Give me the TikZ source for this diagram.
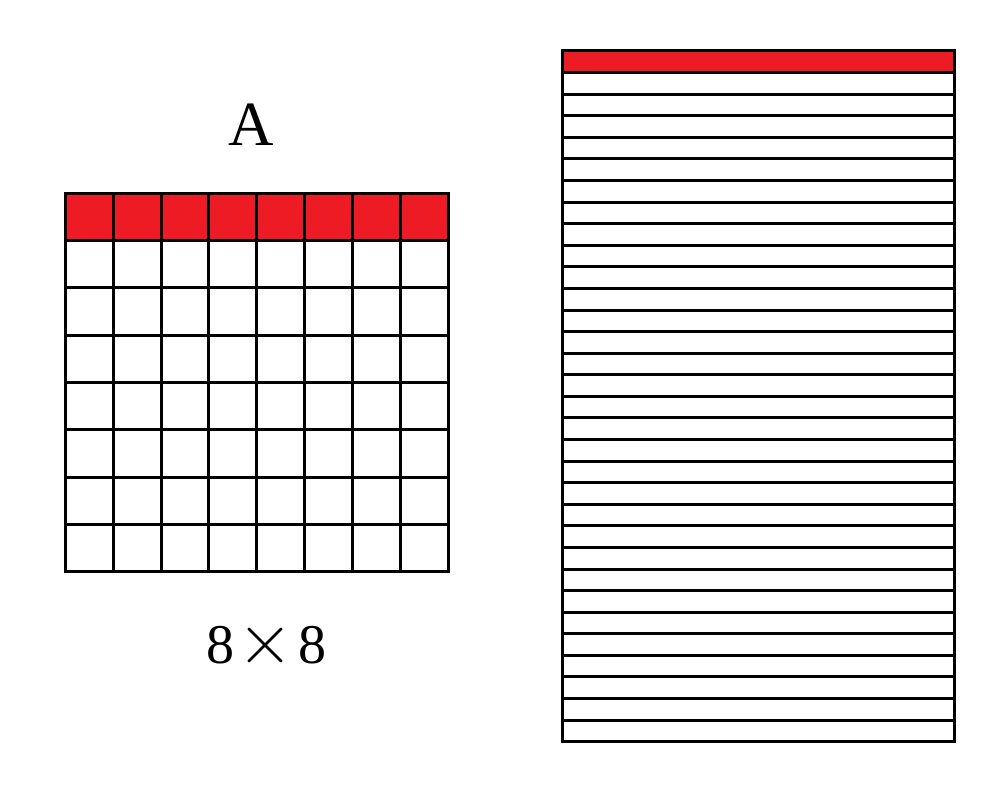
\documentclass[tikz,border=0pt]{standalone}
\usepackage{fontspec}
\setmainfont{Liberation Serif}
\definecolor{cellred}{HTML}{ED1C24}
\begin{document}
\begin{tikzpicture}[x=1pt,y=-1pt,
  gridline/.style={line width=3pt,draw=black},
  redfill/.style={fill=cellred},
  lbl/.style={font=\fontsize{63}{70}\selectfont,inner sep=0pt}]
\useasboundingbox (0,0) rectangle (997,799);
% left grid
\fill[redfill] (65.3,193.3) rectangle (448.3,240.6);
\foreach \i in {0,...,8} {
  \draw[gridline,line cap=rect] ({65.3+\i*47.875},193.3) -- ({65.3+\i*47.875},571.7);
  \draw[gridline,line cap=rect] (65.3,{193.3+\i*47.3}) -- (448.3,{193.3+\i*47.3});
}
% right list
\fill[redfill] (562.5,51) rectangle (954.5,72.6);
\draw[gridline] (562.5,51) rectangle (954.5,741.7);
\foreach \i in {1,...,31} {
  \draw[gridline] (562.5,{51+\i*21.584}) -- (954.5,{51+\i*21.584});
}
\node[lbl] (A) at (251,125) {A};
\node[font=\fontsize{56}{62}\selectfont,inner sep=0pt] (size) at (266,645) {8\hspace{4pt}{\fontsize{10}{12}\selectfont\scalebox{7.2}{$\times$}}\hspace{4pt}8};
\end{tikzpicture}
\end{document}
